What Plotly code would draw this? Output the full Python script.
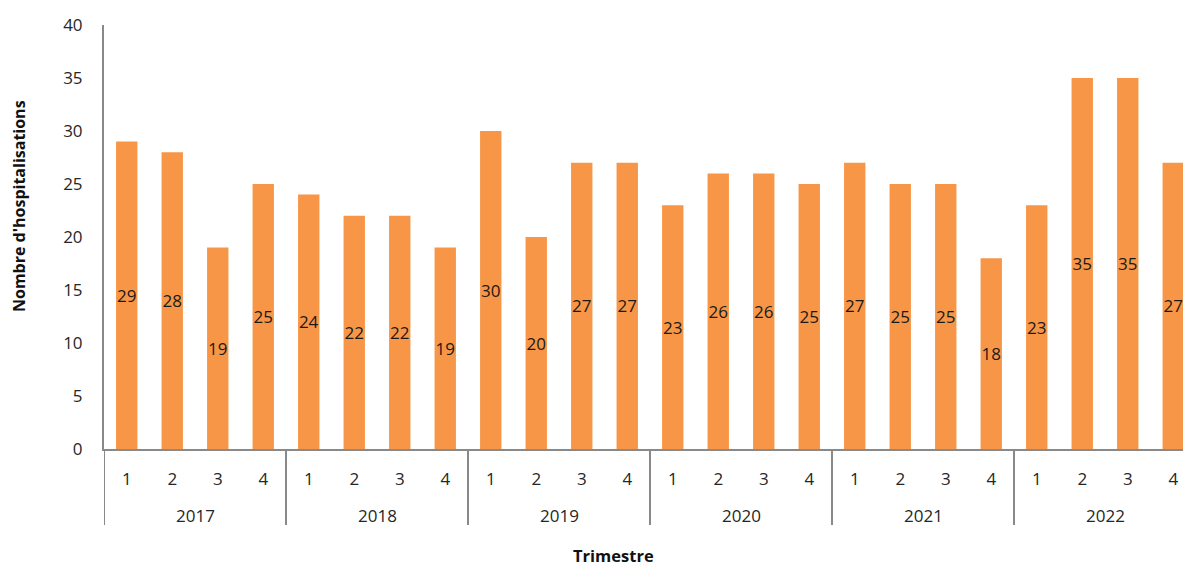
import plotly.graph_objects as go

years = ["2017", "2018", "2019", "2020", "2021", "2022"]
quarters = ["1", "2", "3", "4"]
values = [29, 28, 19, 25,
          24, 22, 22, 19,
          30, 20, 27, 27,
          23, 26, 26, 25,
          27, 25, 25, 18,
          23, 35, 35, 27]
y_ticks = [0, 5, 10, 15, 20, 25, 30, 35, 40]

W, H = 1183, 569
L, T, B = 104, 25, 120
cat_px = 45.5
n = len(values)
xs = list(range(n))
qlabels = [q for _ in years for q in quarters]
plot_w = W - L
xmax = -0.5 + plot_w / cat_px
plot_h = H - T - B

FONT = "'Open Sans', sans-serif"
AX = "#898989"
TXT = "#262626"

fig = go.Figure(go.Bar(
    x=xs, y=values, text=[str(v) for v in values],
    textposition="inside", insidetextanchor="middle", constraintext="none",
    textfont=dict(family=FONT, size=17, color="#1a1a1a"),
    marker=dict(color="#F79646", line=dict(width=0)),
    width=0.47, hoverinfo="skip",
))

shapes = []
annotations = []
ng = len(quarters)
for i, yr in enumerate(years):
    start = i * ng - 0.5
    shapes.append(dict(type="line", xref="x", yref="paper", x0=start, x1=start,
                       y0=0, y1=-76 / plot_h, line=dict(color=AX, width=2)))
    annotations.append(dict(text=yr, xref="x", yref="paper", x=start + ng / 2,
                            y=-66 / plot_h, xanchor="center", yanchor="middle",
                            showarrow=False, font=dict(family=FONT, size=17, color=TXT)))
annotations.append(dict(text="<b>Nombre d'hospitalisations</b>", xref="paper", yref="paper",
                        x=(18.5 - L) / plot_w, y=(H - B - 206.5) / plot_h, textangle=-90,
                        xanchor="center", yanchor="middle",
                        showarrow=False, font=dict(family=FONT, size=16, color="#111")))
annotations.append(dict(text="<b>Trimestre</b>", xref="paper", yref="paper",
                        x=(613 - L) / plot_w, y=-(555 - (H - B)) / plot_h,
                        xanchor="center", yanchor="middle", showarrow=False, borderpad=0,
                        font=dict(family=FONT, size=16.5, color="#111")))

fig.update_layout(
    width=W, height=H, margin=dict(l=L, r=0, t=T, b=B),
    plot_bgcolor="white", paper_bgcolor="white",
    showlegend=False, shapes=shapes, annotations=annotations,
    xaxis=dict(range=[-0.5, xmax], tickmode="array", tickvals=xs, ticktext=qlabels,
               showline=True, linecolor=AX, linewidth=2, showgrid=False, zeroline=False,
               ticks="", ticklabelstandoff=14,
               tickfont=dict(family=FONT, size=17, color=TXT)),
    yaxis=dict(range=[0, 40], tickmode="array", tickvals=y_ticks,
               showline=True, linecolor=AX, linewidth=2, showgrid=False, zeroline=False,
               ticks="", ticklabelstandoff=16,
               tickfont=dict(family=FONT, size=17, color=TXT)),
)

fig.write_html("out.html", config={"displayModeBar": False},
               post_script="document.body.style.margin='0';document.body.style.overflow='hidden';")
